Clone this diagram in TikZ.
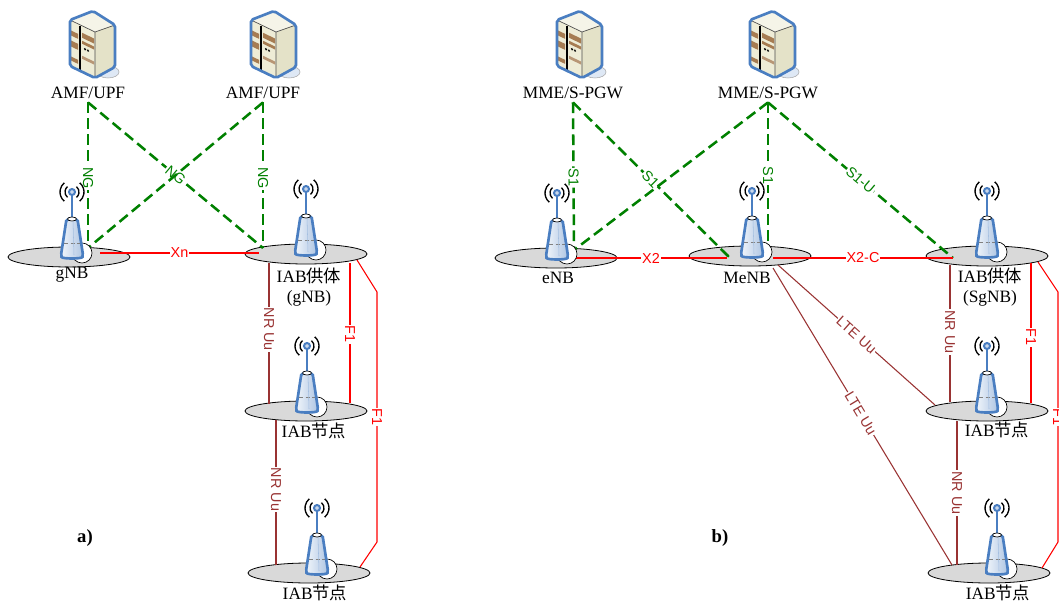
\documentclass[tikz,border=0pt]{standalone}
\usepackage{fontspec}
\setmainfont{Liberation Serif}
\newfontfamily\cjk{Noto Sans CJK SC}
\newfontfamily\arial{Liberation Sans}
\usetikzlibrary{shapes.geometric, calc}

\definecolor{ngreen}{RGB}{0,128,0}
\definecolor{uubrown}{RGB}{153,51,51}
\definecolor{cellgray}{RGB}{217,217,217}
\definecolor{antblue}{RGB}{74,126,193}
\definecolor{srvblue}{RGB}{74,126,193}
\definecolor{srvfront}{RGB}{238,236,214}
\definecolor{srvside}{RGB}{228,226,200}
\definecolor{srvtop}{RGB}{245,244,232}
\definecolor{srvbrown}{RGB}{166,124,82}
\definecolor{shadowblue}{RGB}{222,232,245}

\tikzstyle{cell} = [ellipse, draw=black, line width=0.6pt, fill=cellgray, minimum width=91.5pt, minimum height=15pt, inner sep=0pt]
\tikzstyle{sitename} = [font=\fontsize{13pt}{15pt}\selectfont, inner xsep=0pt, inner ysep=2.5pt, align=center]
\tikzstyle{panel} = [font=\fontsize{14pt}{16pt}\selectfont\bfseries, inner sep=0pt]
\tikzstyle{iflabel} = [font=\arial\fontsize{10.8pt}{12pt}\selectfont, fill=white, inner sep=0.8pt, sloped]
\tikzstyle{ngline} = [ngreen, line width=1.9pt, dash pattern=on 8pt off 4pt]
\tikzstyle{redline} = [red, line width=0.8pt]
\tikzstyle{uuline} = [uubrown, line width=0.8pt]

\tikzset{
  % core network box
  server/.pic={
    \draw[gray!70, line width=0.4pt, fill=shadowblue] (16,27) ellipse (11 and 6);
    \fill[srvtop] (-22,-25) -- (1,-34) -- (23,-20) -- (3,-13) -- cycle;
    \fill[srvside] (3,-13) -- (23,-20) -- (23,22) -- (3,33) -- cycle;
    \begin{scope}[shift={(-22,-25)}, yslant=-0.48]
      \fill[srvfront] (0,0) rectangle (25,46);
      \fill[srvbrown] (1,10) rectangle (8,15);
      \fill[srvbrown] (1,20) rectangle (8,26);
      \fill[srvbrown] (1,36) rectangle (8,40);
      \fill[srvbrown] (12,7) rectangle (24,12);
      \fill[srvbrown] (12,15) rectangle (24,18);
      \fill[black] (15,22) circle (1.2) (18,22) circle (1.2);
      \fill[srvbrown!80] (12,30) rectangle (24,33);
      \draw[black, line width=1.6pt] (10,1) -- (10,45);
    \end{scope}
    \draw[black!70, line width=0.5pt] (-22,-25) -- (3,-13) -- (23,-20) (3,-13) -- (3,33);
    \draw[srvblue, line width=2pt, rounded corners=1.5pt] (-22,-25) -- (1,-34) -- (23,-20) -- (23,22) -- (3,33) -- (-22,21) -- cycle;
  },
  % base station tower
  bts/.pic={
    \draw[line width=0.5pt, fill=white] (10,-4) circle (10);
    \draw[antblue, line width=2pt, left color=antblue!8, right color=antblue!45, rounded corners=1.5pt]
      (-5.5,-38) -- (-11,-2) .. controls (-10,2) and (10,2) .. (11,-2) -- (5.5,-38) -- cycle;
    \draw[gray, densely dashed, line width=0.4pt] (-8,-14) -- (8,-14);
    \draw[antblue!50, line width=0.4pt] (1,-37) -- (2,-2);
    \draw[antblue, line width=2pt] (0,-40) -- (0,-62);
    \draw[black, line width=0.5pt, fill=white] (0,-38) ellipse (4.5 and 2);
    \draw[antblue, line width=1.5pt, fill=antblue!30] (0,-65) circle (3);
    \foreach \r in {7,12} {
      \draw[line width=1pt] (0,-65) ++(-50:\r) arc (-50:50:\r);
      \draw[line width=1pt] (0,-65) ++(130:\r) arc (130:230:\r);
    }
  }
}

\begin{document}
\begin{tikzpicture}[x=0.75pt, y=-0.75pt]
\useasboundingbox (0,0) rectangle (1059,602);

% core network
\pic at (92,45) {server};
\pic at (273,45) {server};
\pic at (579,45) {server};
\pic at (772,45) {server};
\node (amf1) [sitename] at (88,93) {AMF/UPF};
\node (amf2) [sitename] at (263,93) {AMF/UPF};
\node (mme1) [sitename] at (573,93) {MME/S-PGW};
\node (mme2) [sitename] at (768,93) {MME/S-PGW};

% cells of a)
\node (gnb) [cell] at (69,257) {};
\node (donora) [cell] at (306,254) {};
\node (iaba1) [cell] at (306,411) {};
\node (iaba2) [cell] at (309,573) {};
% cells of b)
\node (enb) [cell] at (556,258) {};
\node (menb) [cell] at (750,256) {};
\node (donorb) [cell] at (987,256) {};
\node (iabb1) [cell] at (987,411) {};
\node (iabb2) [cell] at (989,573) {};

\node (t-gnb) [sitename] at (72,275) {gNB};
\node (t-donora) [sitename] at (309,287) {IAB{\cjk 供体}\\(gNB)};
\node (t-iaba1) [sitename] at (314,431) {IAB{\cjk 节点}};
\node (t-iaba2) [sitename] at (315,593) {IAB{\cjk 节点}};
\node (t-enb) [sitename] at (558,278) {eNB};
\node (t-menb) [sitename] at (747,278) {MeNB};
\node (t-donorb) [sitename] at (990,287) {IAB{\cjk 供体}\\(SgNB)};
\node (t-iabb1) [sitename] at (997,430) {IAB{\cjk 节点}};
\node (t-iabb2) [sitename] at (998,593) {IAB{\cjk 节点}};

\node (pa) [panel] at (85,538) {a)};
\node (pb) [panel] at (720,538) {b)};

% a) interfaces
\draw [ngline] (amf1.south) -- node[iflabel, pos=0.52] {NG} ($(gnb)+(19,-9)$);
\draw [ngline] (amf1.south) -- node[iflabel] {NG} ($(donora)+(-43,-6)$);
\draw [ngline] (amf2.south) -- ($(gnb)+(19,-9)$);
\draw [ngline] (amf2.south) -- node[iflabel, pos=0.52] {NG} ($(donora)+(-43,-6)$);
\draw [redline] ($(gnb)+(31,-4)$) -- node[iflabel] {Xn} ($(donora)+(-47,-1)$);
\draw [uuline] ($(donora)+(-37,9)$) -- node[iflabel, pos=0.47] {NR Uu} ($(iaba1)+(-37,-7)$);
\draw [uuline] ($(iaba1)+(-30,9)$) -- node[iflabel, pos=0.48] {NR Uu} ($(iaba2)+(-33,-8)$);
\draw [redline] ($(donora)+(44,9)$) -- node[iflabel, pos=0.51] {F1} ($(iaba1)+(44,-8)$);
\draw [redline] ($(donora)+(51,6)$) -- ($(donora)+(71,38)$) -- node[iflabel] {F1} ($(iaba2)+(68,-31)$) -- ($(iaba2)+(51,-6)$);

% b) interfaces
\draw [ngline] (mme1.south) -- node[iflabel, pos=0.51] {S1} ($(enb)+(18,-8)$);
\draw [ngline] (mme1.south) -- node[iflabel] {S1} ($(menb)+(-22,0)$) coordinate (s1end);
\fill [ngreen] (s1end) circle (1.5);
\draw [ngline] (mme2.south) -- ($(enb)+(18,-8)$);
\draw [ngline] (mme2.south) -- node[iflabel] {S1} ($(menb)+(18,-8)$);
\draw [ngline] (mme2.south) -- node[iflabel] {S1-U} ($(donorb)+(-34,2)$);
\draw [redline] ($(enb)+(19,0)$) -- node[iflabel] {X2} ($(menb)+(-23,2)$);
\draw [redline] ($(menb)+(23,2)$) -- node[iflabel] {X2-C} ($(donorb)+(-34,2)$);
\draw [uuline] ($(menb)+(28,9)$) -- node[iflabel] {LTE Uu} ($(iabb1)+(-52,-6)$);
\draw [uuline] ($(menb)+(23,12)$) -- node[iflabel, pos=0.49] {LTE Uu} ($(iabb2)+(-37,-8)$);
\draw [uuline] ($(donorb)+(-37,9)$) -- node[iflabel, pos=0.49] {NR Uu} ($(iabb1)+(-37,-9)$);
\draw [uuline] ($(iabb1)+(-30,10)$) -- node[iflabel] {NR Uu} ($(iabb2)+(-32,-8)$);
\draw [redline] ($(donorb)+(44,7)$) -- node[iflabel, pos=0.53] {F1} ($(iabb1)+(44,-8)$);
\draw [redline] ($(donorb)+(51,6)$) -- ($(donorb)+(71,36)$) -- node[iflabel] {F1} ($(iabb2)+(69,-31)$) -- ($(iabb2)+(53,-5)$);

% towers
\pic at (72,257) {bts};
\pic at (306,254) {bts};
\pic at (307,411) {bts};
\pic at (317,573) {bts};
\pic at (557,258) {bts};
\pic at (752,256) {bts};
\pic at (987,256) {bts};
\pic at (987,411) {bts};
\pic at (997,573) {bts};
\end{tikzpicture}
\end{document}
